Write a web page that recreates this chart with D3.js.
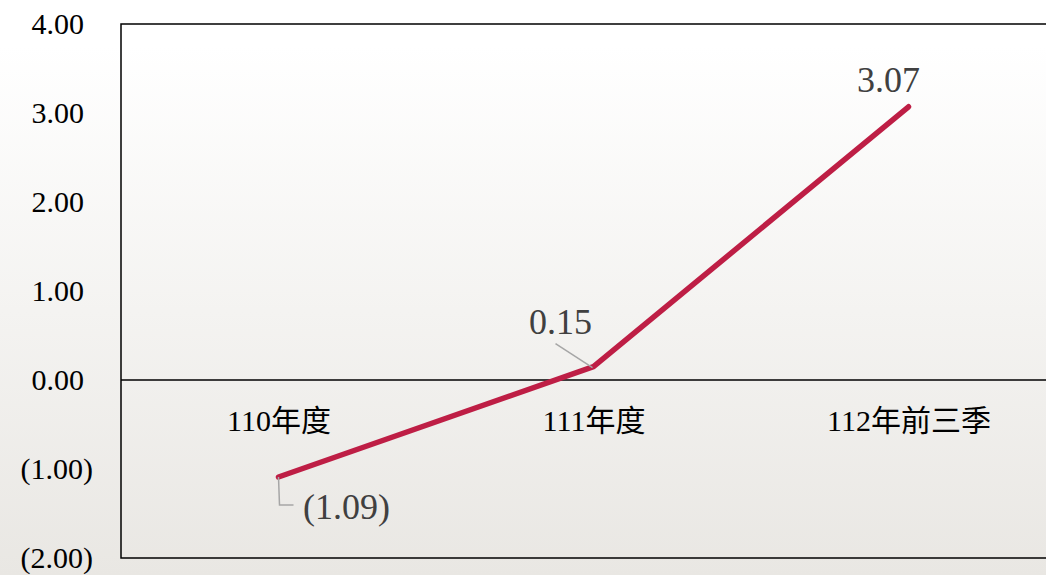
<!DOCTYPE html>
<html>
<head>
<meta charset="utf-8">
<script src="https://cdn.jsdelivr.net/npm/d3@7/dist/d3.min.js"></script>
<style>
html,body{margin:0;padding:0;overflow:hidden;}
svg{display:block;}
</style>
</head>
<body>
<svg id="chart" width="1046" height="575"></svg>
<script>
const categories = ["110年度", "111年度", "112年前三季"];
const values = [-1.09, 0.15, 3.07];
const valueLabels = ["(1.09)", "0.15", "3.07"];
const tickValues = [4, 3, 2, 1, 0, -1, -2];
const tickLabels = ["4.00", "3.00", "2.00", "1.00", "0.00", "(1.00)", "(2.00)"];

(function () {
const W = 1046, H = 575;
const pLeft = 121, pRight = 1066, pTop = 24, pBottom = 558;
const FONT = "'Liberation Serif', 'Noto Sans CJK TC', serif";
const svg = d3.select("#chart");

const defs = svg.append("defs");
const grad = defs.append("linearGradient").attr("id", "bg").attr("x1", 0).attr("y1", 0).attr("x2", 0).attr("y2", 1);
grad.append("stop").attr("offset", "0").attr("stop-color", "#ffffff");
grad.append("stop").attr("offset", "0.08").attr("stop-color", "#ffffff");
grad.append("stop").attr("offset", "1").attr("stop-color", "#e9e7e3");
svg.append("rect").attr("width", W).attr("height", H).attr("fill", "url(#bg)");

const y = d3.scaleLinear().domain([-2, 4]).range([pBottom, pTop]);
const x = d3.scalePoint().domain(categories).range([pLeft, pRight]).padding(0.5);

// plot frame
svg.append("rect").attr("x", pLeft).attr("y", pTop).attr("width", pRight - pLeft).attr("height", pBottom - pTop)
  .attr("fill", "none").attr("stroke", "#000").attr("stroke-width", 1.5);

// y axis
const yAxis = svg.append("g").attr("transform", `translate(${pLeft},0)`)
  .call(d3.axisLeft(y).tickValues(tickValues).tickFormat((d, i) => tickLabels[i]).tickSize(0).tickPadding(0));
yAxis.select(".domain").remove();
yAxis.selectAll("text")
  .style("font-family", FONT).style("font-size", "30px").attr("fill", "#000")
  .attr("dy", "0.33em")
  .attr("x", d => d < 0 ? -28 : -37);

// zero line
svg.append("line").attr("x1", pLeft).attr("x2", pRight).attr("y1", y(0)).attr("y2", y(0))
  .attr("stroke", "#000").attr("stroke-width", 1.5);

// category axis
const xAxis = svg.append("g").attr("transform", `translate(0,${y(0)})`)
  .call(d3.axisBottom(x).tickSize(0).tickPadding(0));
xAxis.select(".domain").remove();
xAxis.selectAll("text")
  .style("font-family", FONT).style("font-size", "30px").attr("fill", "#000")
  .attr("dy", "0").attr("y", 51);

// line
const line = d3.line().x((d, i) => x(categories[i])).y(d => y(d));
svg.append("path").datum(values).attr("d", line)
  .attr("fill", "none").attr("stroke", "#be1e45").attr("stroke-width", 5.5)
  .attr("stroke-linecap", "round").attr("stroke-linejoin", "round");

// leader lines
const p0 = [x(categories[0]), y(values[0])];
svg.append("path").attr("d", `M${p0[0]},${p0[1]} L${p0[0] + 1},${p0[1] + 28} L${p0[0] + 15},${p0[1] + 28}`)
  .attr("fill", "none").attr("stroke", "#a6a6a6").attr("stroke-width", 1.5);
const p1 = [x(categories[1]), y(values[1])];
svg.append("line").attr("x1", p1[0] - 38).attr("y1", p1[1] - 23).attr("x2", p1[0] - 1).attr("y2", p1[1] + 1)
  .attr("stroke", "#a6a6a6").attr("stroke-width", 1.5);

// data labels
const labelOffsets = [[68, 42], [-33, -33], [-20, -15]];
svg.selectAll(".dl").data(values).enter().append("text")
  .attr("class", "dl")
  .attr("x", (d, i) => x(categories[i]) + labelOffsets[i][0])
  .attr("y", (d, i) => y(d) + labelOffsets[i][1])
  .attr("text-anchor", "middle")
  .style("font-family", FONT).style("font-size", "36px").attr("fill", "#404040")
  .text((d, i) => valueLabels[i]);
})();
</script>
</body>
</html>
